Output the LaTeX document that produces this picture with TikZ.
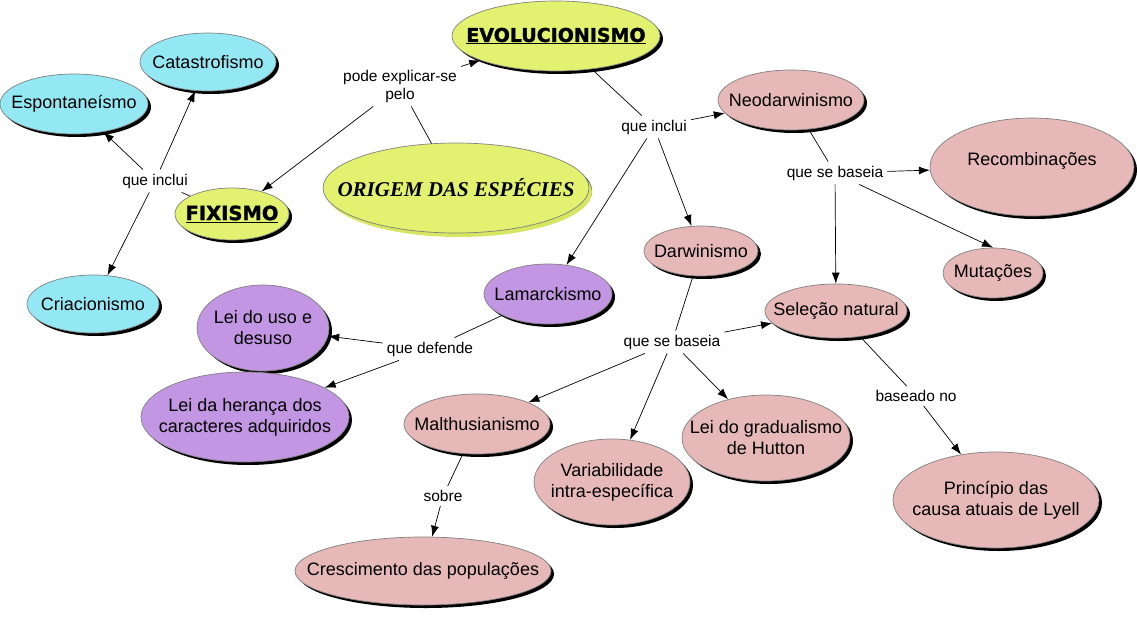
\documentclass[tikz,border=0pt]{standalone}
\usepackage{fontspec}
\setmainfont{Liberation Sans}
\newfontfamily\heavyfont{DejaVu Sans}[BoldFeatures={FakeBold=1.5}]
\newfontfamily\titlefont{Liberation Serif}
\usepackage{tikz}
\usetikzlibrary{arrows.meta,shapes.geometric,shadows}

\definecolor{cyanc}{RGB}{148,232,244}
\definecolor{yellowc}{RGB}{226,241,112}
\definecolor{yshadow}{RGB}{214,230,96}
\definecolor{pinkc}{RGB}{230,185,184}
\definecolor{purplec}{RGB}{195,150,228}

\begin{document}
\begin{tikzpicture}[x=1pt,y=-1pt]

\tikzset{concept/.style = {shape=ellipse, draw=gray, line width=0.7pt, inner sep=-50pt, align=center,
  font=\fontsize{18}{21}\selectfont,
  drop shadow={shadow xshift=3pt, shadow yshift=-3pt, fill=black, opacity=1}}}
\tikzset{sz/.style 2 args = {minimum width=#1pt, minimum height=#2pt}}
\tikzset{link/.style = {font=\fontsize{15.5}{18}\selectfont, align=center, inner sep=4pt}}
\tikzset{arc/.style = {-{Latex[length=11pt,width=8pt]}, line width=0.7pt}}
\tikzset{edge/.style = {line width=0.7pt}}

\useasboundingbox (0,0) rectangle (1137,621);

% concepts
\node[concept, fill=yellowc, sz={266}{90},
  drop shadow={shadow xshift=3pt, shadow yshift=-4pt, fill=yshadow, opacity=1}]
  (origem) at (456,188) {\titlefont\bfseries\itshape\fontsize{21}{24}\selectfont ORIGEM DAS ESPÉCIES};
\node[concept, fill=yellowc, sz={208}{70}] (evo) at (556,36)
  {\heavyfont\bfseries\fontsize{19}{22}\selectfont\underline{EVOLUCIONISMO}};
\node[concept, fill=yellowc, sz={114}{52}] (fix) at (232,214)
  {\heavyfont\bfseries\fontsize{19.5}{22}\selectfont\underline{FIXISMO}};

\node[concept, fill=cyanc, sz={136}{58}] (catas) at (208,62) {Catastrofismo};
\node[concept, fill=cyanc, sz={148}{60}] (espont) at (74,104) {Espontaneísmo};
\node[concept, fill=cyanc, sz={132}{58}] (criac) at (93,304) {Criacionismo};

\node[concept, fill=pinkc, sz={146}{60}] (neo) at (791,100) {Neodarwinismo};
\node[concept, fill=pinkc, sz={204}{98}] (recomb) at (1032,167) {\raisebox{2pt}[0pt][0pt]{Recombinações}};
\node[concept, fill=pinkc, sz={100}{50}] (mut) at (993,273) {Mutações};
\node[concept, fill=pinkc, sz={114}{50}] (darwin) at (701,251) {Darwinismo};
\node[concept, fill=pinkc, sz={142}{54}] (selecao) at (836,311) {Seleção natural};
\node[concept, fill=pinkc, sz={146}{60}] (malthus) at (477,424) {Malthusianismo};
\node[concept, fill=pinkc, sz={156}{86}] (variab) at (612,482) {Variabilidade\\intra-específica};
\node[concept, fill=pinkc, sz={168}{86}] (hutton) at (766,438) {Lei do gradualismo\\de Hutton};
\node[concept, fill=pinkc, sz={206}{96}] (lyell) at (996,500) {Princípio das\\causa atuais de Lyell};
\node[concept, fill=pinkc, sz={256}{68}] (cresc) at (423,571) {Crescimento das populações};

\node[concept, fill=purplec, sz={128}{60}] (lamarck) at (548,294) {Lamarckismo};
\node[concept, fill=purplec, sz={132}{86}] (uso) at (263,328) {Lei do uso e\\desuso};
\node[concept, fill=purplec, sz={208}{90}] (heranca) at (245,417) {Lei da herança dos\\caracteres adquiridos};

% labels
\node[link] (pode) at (400,86) {pode explicar-se\\pelo};
\node[link] (incl1) at (155,181) {que inclui};
\node[link] (incl2) at (654,127) {que inclui};
\node[link] (base1) at (835,173) {que se baseia};
\node[link] (base2) at (672,342) {que se baseia};
\node[link] (defende) at (430,349) {que defende};
\node[link] (baseado) at (916,396) {baseado no};
\node[link] (sobre) at (443,496) {sobre};

% edges
\draw[edge] (origem) -- (pode);
\draw[edge] (fix) -- (incl1);
\draw[edge] (evo) -- (incl2);
\draw[edge] (neo) -- (base1);
\draw[edge] (darwin) -- (base2);
\draw[edge] (lamarck) -- (defende);
\draw[edge] (selecao) -- (baseado);
\draw[edge] (malthus) -- (sobre);

% arcs
\draw[arc] (pode) -- (evo);
\draw[arc] (pode) -- (fix);
\draw[arc] (incl1) -- (catas);
\draw[arc] (incl1) -- (espont);
\draw[arc] (incl1) -- (criac);
\draw[arc] (incl2) -- (neo);
\draw[arc] (incl2) -- (darwin);
\draw[arc] (incl2) -- (lamarck);
\draw[arc] (base1) -- (recomb);
\draw[arc] (base1) -- (mut.north);
\draw[arc] (base1) -- (selecao);
\draw[arc] (base2) -- (selecao);
\draw[arc] (base2) -- (malthus);
\draw[arc] (base2) -- (variab);
\draw[arc] (base2) -- (hutton);
\draw[arc] (defende) -- (uso);
\draw[arc] (defende) -- (heranca);
\draw[arc] (baseado) -- (lyell);
\draw[arc] (sobre) -- (cresc);

\end{tikzpicture}
\end{document}
